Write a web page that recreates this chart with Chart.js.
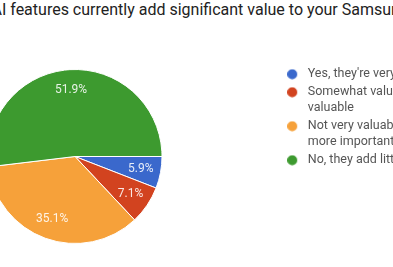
<!DOCTYPE html>
<html>
<head>
<meta charset="utf-8">
<script src="https://cdn.jsdelivr.net/npm/chart.js@4/dist/chart.umd.min.js"></script>
<style>
  html, body { margin: 0; padding: 0; background: #fff; overflow: hidden; }
  body { width: 393px; height: 267px; position: relative; }
  #title {
    position: absolute; left: -8.5px; top: 0;
    white-space: nowrap;
    font: 16px/20px Roboto, sans-serif;
    color: #222;
  }
  #wrap { position: absolute; left: -137px; top: 66px; width: 544px; height: 181px; }
</style>
</head>
<body>
<div id="title">AI features currently add significant value to your Samsung Galaxy device?</div>
<div id="wrap"><canvas id="pieChart"></canvas></div>
<script>
// answers (multi-line labels wrap like the form summary)
const answers = [
    ["Yes, they're very valuable"],
    ['Somewhat valuable, but could be more', 'valuable'],
    ['Not very valuable, other features are', 'more important'],
    ['No, they add little to no value']
];
const shares = [5.9, 7.1, 35.1, 51.9];
const sliceColors = ['#3a68cc', '#d2431f', '#f6a13a', '#3d9a2f'];

// small dot image for the legend, dot sits left of the image centre
function makeDot(color) {
    const c = document.createElement('canvas');
    c.width = 16;
    c.height = 11;
    const g = c.getContext('2d');
    g.fillStyle = color;
    g.beginPath();
    g.arc(5, 5.5, 5, 0, Math.PI * 2);
    g.fill();
    return c;
}

// percent text inside each slice
const pctLabels = {
    id: 'pctLabels',
    afterDatasetsDraw(chart) {
        const ctx = chart.ctx;
        const meta = chart.getDatasetMeta(0);
        ctx.save();
        ctx.font = '12px Roboto, sans-serif';
        ctx.fillStyle = 'rgba(255,255,255,0.88)';
        ctx.textAlign = 'center';
        ctx.textBaseline = 'middle';
        meta.data.forEach((arc, i) => {
            const p = arc.getProps(['x', 'y', 'startAngle', 'endAngle', 'outerRadius'], true);
            const mid = (p.startAngle + p.endAngle) / 2;
            const r = p.outerRadius * 0.77;
            ctx.fillText(shares[i].toFixed(1) + '%', p.x + Math.cos(mid) * r, p.y + Math.sin(mid) * r);
        });
        ctx.restore();
    }
};

const pieCtx = document.getElementById('pieChart');

if (pieCtx) {
    new Chart(pieCtx, {
        type: 'pie',
        data: {
            labels: answers,
            datasets: [{
                data: shares,
                backgroundColor: sliceColors,
                borderColor: '#ffffff',
                borderWidth: 1
            }]
        },
        options: {
            responsive: true,
            maintainAspectRatio: false,
            animation: false,
            rotation: 90,
            radius: 87,
            layout: { padding: 0 },
            plugins: {
                tooltip: { enabled: false },
                legend: {
                    position: 'right',
                    align: 'start',
                    maxWidth: 120,
                    labels: {
                        usePointStyle: true,
                        boxWidth: 12.5,
                        boxHeight: 8,
                        padding: 2,
                        color: '#555',
                        font: { family: 'Roboto, sans-serif', size: 12.5, lineHeight: 16 / 12.5 },
                        generateLabels(chart) {
                            const items = Chart.overrides.pie.plugins.legend.labels.generateLabels(chart);
                            items.forEach((item, i) => { item.pointStyle = makeDot(sliceColors[i]); });
                            return items;
                        }
                    }
                }
            }
        },
        plugins: [pctLabels]
    });
}
</script>
</body>
</html>
